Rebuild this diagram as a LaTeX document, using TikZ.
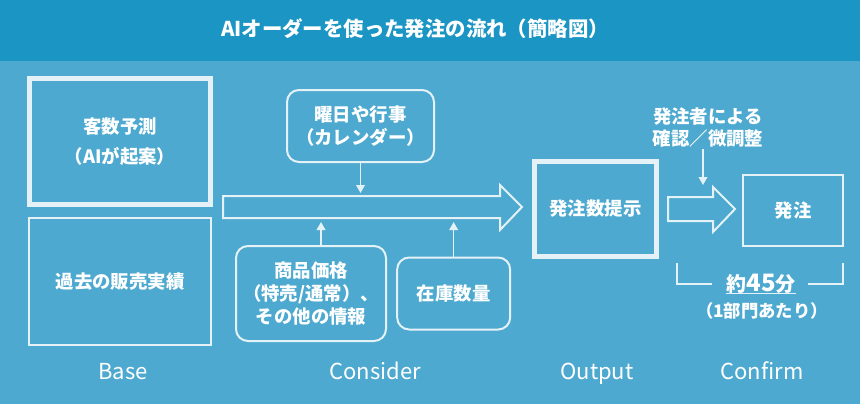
\documentclass[tikz,border=0pt]{standalone}
\usepackage{fontspec}
\setmainfont{Noto Sans CJK JP}
\usepackage{tikz}
\usetikzlibrary{positioning, arrows.meta}

\definecolor{bgblue}{HTML}{4DA9CF}
\definecolor{titleblue}{HTML}{1B95C3}
\definecolor{lineblue}{HTML}{E4F2F8}

\begin{document}
\begin{tikzpicture}[x=0.75pt, y=-0.75pt, >={Triangle[length=6pt, width=6.5pt]},
    every node/.style={text=white},
    box/.style={draw=lineblue, line width=1.5pt, align=center, inner sep=0pt,
        font=\bfseries\fontsize{13.8pt}{17pt}\selectfont},
    thickbox/.style={box, line width=3.75pt},
    roundbox/.style={box, rounded corners=9pt},
    flow/.style={draw=lineblue, line width=1.5pt, line join=miter},
    arr/.style={draw=lineblue, line width=1.1pt},
    stage/.style={anchor=base, font=\fontsize{16.5pt}{20pt}\selectfont}]
    % 背景
    \useasboundingbox (0,0) rectangle (860,404);
    \fill[bgblue] (0,0) rectangle (860,404);
    \fill[titleblue] (0,0) rectangle (860,61);
    \node (title) at (415,29) {\bfseries\fontsize{15.3pt}{17pt}\selectfont AIオーダーを使った発注の流れ（簡略図）};
    % ノード
    \node[thickbox, minimum width=135.75pt, minimum height=94.5pt] (forecast) at (120,141.5) {客数予測\\[5pt]（AIが起案）};
    \node[box, minimum width=136.5pt, minimum height=95.25pt, below of=forecast, node distance=105pt] (history) {過去の販売実績};
    \node[roundbox, minimum width=110.25pt, minimum height=54pt] (calendar) at (360.5,126) {曜日や行事\\（カレンダー）};
    \node[roundbox, minimum width=112.5pt, minimum height=71.25pt] (price) at (311,293.5) {商品価格\\（特売/通常）、\\その他の情報};
    \node[roundbox, minimum width=84.75pt, minimum height=54pt, right of=price, node distance=107pt] (stock) {在庫数量};
    \node[thickbox, minimum width=91.5pt, minimum height=71.25pt] (propose) at (595.5,209) {発注数提示};
    \node[box, minimum width=75pt, minimum height=53.25pt] (order) at (793,210.5) {発注};
    \node[box, draw=none] (check) at (708,127.5) {発注者による\\確認／微調整};
    % 矢印
    \coordinate (flowstart) at (223,207);
    \coordinate (flowtip) at (522,207);
    \coordinate (flowtop) at (361,193);
    \coordinate (flowbot) at (361,222);
    \draw[flow] (flowstart) ++(0,-11) -- ++(277,0) -- ++(0,-11) -- (flowtip)
        -- ++(-22,23) -- ++(0,-12) -- ++(-277,0) -- cycle;
    \coordinate (okstart) at (668,209);
    \coordinate (oktip) at (735,209);
    \draw[flow] (okstart) ++(0,-12) -- ++(45,0) -- ++(0,-10) -- (oktip)
        -- ++(-22,23) -- ++(0,-11) -- ++(-45,0) -- cycle;
    \coordinate (checkend) at (703,185);
    \draw[arr, ->] (calendar.south) -- (calendar.south |- flowtop);
    \draw[arr, ->] ([xshift=7.5pt]price.north) -- ([xshift=7.5pt]price.north |- flowbot);
    \draw[arr, ->] (stock.north) -- (stock.north |- flowbot);
    \draw[arr, ->] (check.south -| checkend) -- (checkend);
    % 所要時間
    \coordinate (brleft) at (677,263);
    \coordinate (brright) at (843,263);
    \draw[flow] (brleft) -- ++(0,21) -- ++(35,0);
    \draw[flow] (brright) -- ++(0,21) -- ++(-35,0);
    \node[anchor=base, inner sep=0pt, font=\bfseries\fontsize{15pt}{18pt}\selectfont] (time) at (761,291.5)
        {約{\fontsize{18pt}{18pt}\selectfont 45}分};
    \draw[lineblue, line width=1.1pt] ([yshift=-1.5pt]time.base west) -- ([yshift=-1.5pt]time.base east);
    \node[anchor=base, font=\bfseries\fontsize{13pt}{15pt}\selectfont] (per) at (762,317) {（1部門あたり）};
    % 標注
    \node[stage] (base) at (123,379.5) {Base};
    \node[stage] (consider) at (375,379.5) {Consider};
    \node[stage] (output) at (597,379.5) {Output};
    \node[stage] (confirm) at (762,379.5) {Confirm};
\end{tikzpicture}
\end{document}
